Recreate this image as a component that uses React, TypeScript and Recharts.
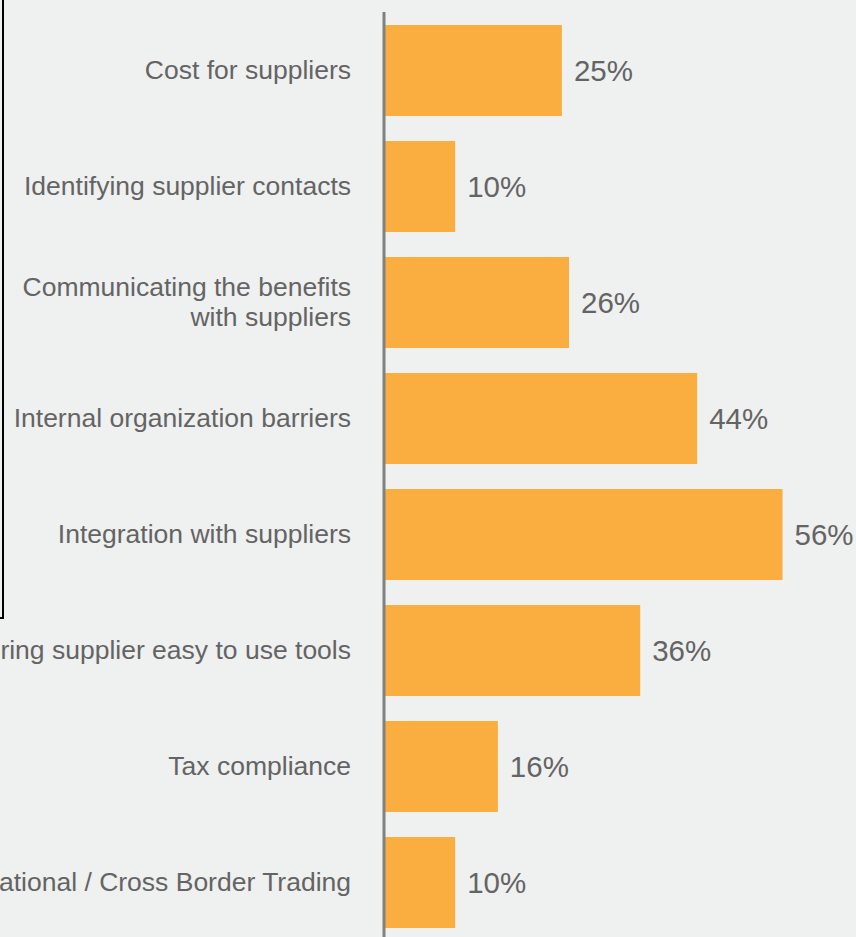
import React from 'react';
import { BarChart, Bar, XAxis, YAxis, LabelList } from 'recharts';

const categories = [
  'Cost for suppliers',
  'Identifying supplier contacts',
  'Communicating the benefits\nwith suppliers',
  'Internal organization barriers',
  'Integration with suppliers',
  'Offering supplier easy to use tools',
  'Tax compliance',
  'International / Cross Border Trading',
];
const values = [25, 10, 26, 44, 56, 36, 16, 10];

const data = categories.map((name, i) => ({ name, value: values[i] }));

const TEXT = '#646464';
const FONT = '"Liberation Sans", Arial, sans-serif';

const Tick = (props: any) => {
  const { x, y, payload } = props;
  const lines = String(payload.value).split('\n');
  const lh = 30;
  const startDy = -((lines.length - 1) * lh) / 2;
  return (
    <text x={x} y={y} textAnchor="end" fill={TEXT} fontSize={26.5} fontFamily={FONT}>
      {lines.map((l, i) => (
        <tspan key={i} x={x} dy={i === 0 ? startDy + 9 : lh}>{l}</tspan>
      ))}
    </text>
  );
};

export default function App() {
  return (
    <div style={{ position: 'absolute', left: 0, top: 0, width: 856, height: 937, overflow: 'hidden', background: '#eff0f0' }}>
      <div style={{ position: 'absolute', left: -20, top: -20, width: 20, height: 635, border: '2px solid #000' }} />
      <BarChart
        width={856}
        height={940}
        data={data}
        layout="vertical"
        margin={{ top: 12, right: 45, bottom: 0, left: 0 }}
      >
        <XAxis type="number" domain={[0, 60]} hide />
        <YAxis
          type="category"
          dataKey="name"
          width={384}
          axisLine={{ stroke: '#808080', strokeWidth: 3 }}
          tickLine={false}
          tick={<Tick />}
          tickMargin={27}
          interval={0}
        />
        <Bar dataKey="value" fill="#f9ae3f" barSize={91} isAnimationActive={false}>
          <LabelList
            dataKey="value"
            position="right"
            offset={12}
            formatter={(v: any) => `${v}%`}
            fill={TEXT}
            fontSize={29.5}
            fontFamily={FONT}
          />
        </Bar>
      </BarChart>
    </div>
  );
}
